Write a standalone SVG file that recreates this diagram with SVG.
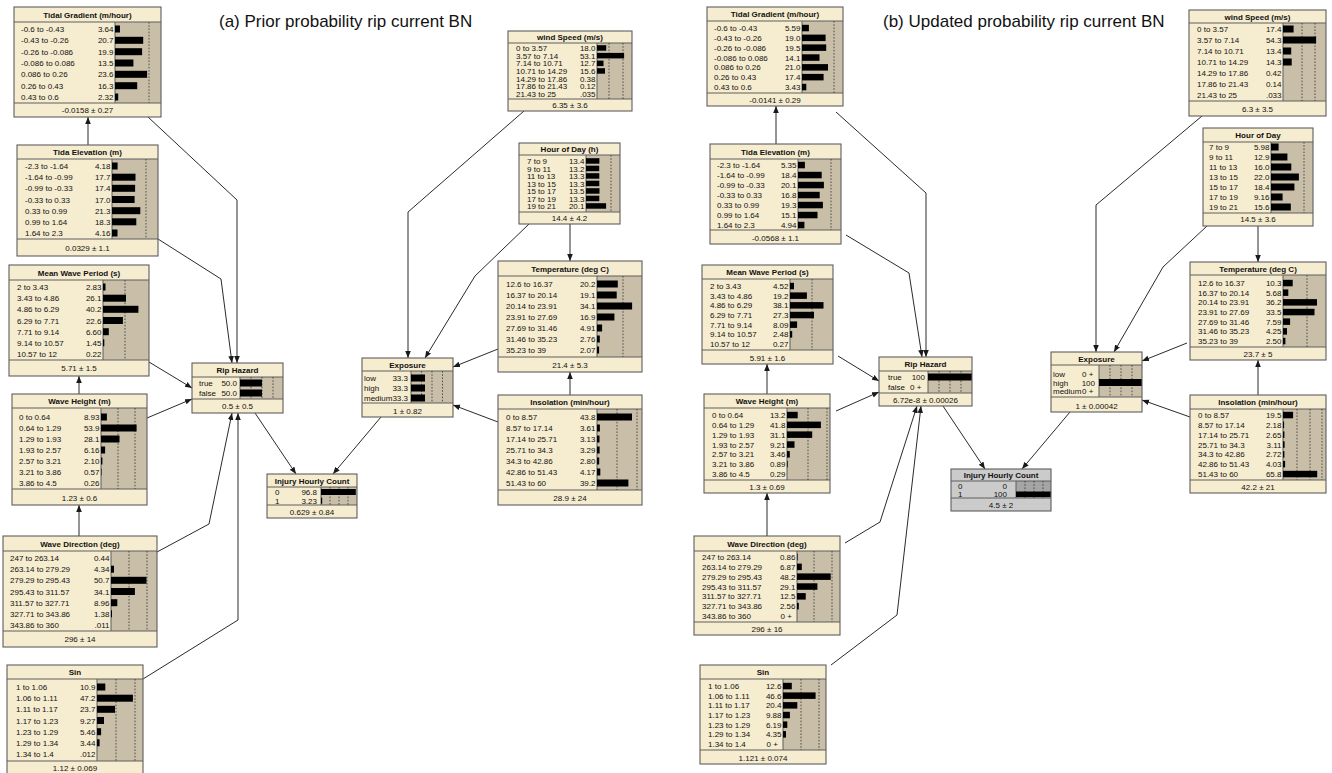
<svg xmlns="http://www.w3.org/2000/svg" width="1332" height="773" viewBox="0 0 1332 773">
<defs>
<marker id="ah" viewBox="0 0 10 10" refX="10" refY="5" markerWidth="7" markerHeight="7" markerUnits="userSpaceOnUse" orient="auto"><path d="M0,1 L10,5 L0,9 z" fill="#1a1a1a"/></marker>
<style>
text{font-family:"Liberation Sans",Arial,sans-serif;font-size:8px;fill:#111}
.ti{font-weight:bold;text-anchor:middle}
.ft{text-anchor:middle}
.v{text-anchor:end}
.cap{font-size:17px;fill:#111}
.bg{fill:#f6eccf}
.gr{fill:#c9bfa9}
.ol{fill:none;stroke:#5e5e5e;stroke-width:1.1}
.sp{fill:none;stroke:#5e5e5e;stroke-width:1}
.dl{fill:none;stroke:#333;stroke-width:0.8;stroke-dasharray:1.6 1.6}
.b{fill:#000}
.cn path{fill:none;stroke:#2a2a2a;stroke-width:1;marker-end:url(#ah)}
.gy .bg{fill:#cbcbcb}
.gy .gr{fill:#a5a5a5}
</style>
</defs>
<rect width="1332" height="773" fill="#fff"/>
<text class="cap" x="219" y="27">(a) Prior probability rip current BN</text>
<text class="cap" x="883" y="27">(b) Updated probability rip current BN</text>

<g id="connectors" class="cn">
<path d="M88,145 L88,117"/>
<path d="M148,117 L237,200 L237,363"/>
<path d="M158,239 L221,279 L232,363"/>
<path d="M149,362 L192,388"/>
<path d="M79,394 L79,376"/>
<path d="M147,418 L192,399"/>
<path d="M79,536 L79,505"/>
<path d="M157,552 L209,524 L232,413"/>
<path d="M143,679 L238,620 L238,413"/>
<path d="M255,413 L296,474"/>
<path d="M381,417 L333,474"/>
<path d="M524,111 L408,212 L408,358"/>
<path d="M529,224 L475,276 L425,358"/>
<path d="M570,224 L570,261"/>
<path d="M498,349 L453,367"/>
<path d="M498,422 L453,405"/>
<path d="M570,395 L570,372"/>
<path d="M776,144 L776,106"/>
<path d="M836,112 L926,193 L926,357"/>
<path d="M846,235 L909,273 L922,357"/>
<path d="M838,356 L879,381"/>
<path d="M767,394 L767,364"/>
<path d="M836,411 L879,392"/>
<path d="M767,536 L767,493"/>
<path d="M845,543 L880,522 L917,406"/>
<path d="M831,665 L897,615 L921,406"/>
<path d="M943,406 L985,469"/>
<path d="M1070,412 L1022,469"/>
<path d="M1202,116 L1096,205 L1096,352"/>
<path d="M1207,226 L1163,267 L1114,352"/>
<path d="M1258,226 L1258,262"/>
<path d="M1187,343 L1142,361"/>
<path d="M1190,417 L1142,400"/>
<path d="M1258,395 L1258,360"/>
</g>

<g id="L-tidal-gradient" transform="translate(14,7)">
<rect class="bg" width="147" height="110"/><rect class="gr" x="101" y="15" width="46" height="81"/>
<path class="sp" d="M0,15H147M0,96H147M101,15V96"/><path class="dl" d="M135,15V96"/>
<text class="ti" x="73.5" y="10.5">Tidal Gradient (m/hour)</text>
<text x="7" y="25">-0.6 to -0.43</text><text class="v" x="99.5" y="25">3.64</text>
<text x="7" y="36.3">-0.43 to -0.26</text><text class="v" x="99.5" y="36.3">20.7</text>
<text x="7" y="47.7">-0.26 to -0.086</text><text class="v" x="99.5" y="47.7">19.9</text>
<text x="7" y="59">-0.086 to 0.086</text><text class="v" x="99.5" y="59">13.5</text>
<text x="7" y="70.3">0.086 to 0.26</text><text class="v" x="99.5" y="70.3">23.6</text>
<text x="7" y="81.7">0.26 to 0.43</text><text class="v" x="99.5" y="81.7">16.3</text>
<text x="7" y="93">0.43 to 0.6</text><text class="v" x="99.5" y="93">2.32</text>
<rect class="b" x="101" y="18.5" width="4.95" height="7"/><rect class="b" x="101" y="29.8" width="28.2" height="7"/><rect class="b" x="101" y="41.2" width="27.1" height="7"/><rect class="b" x="101" y="52.5" width="18.4" height="7"/><rect class="b" x="101" y="63.8" width="32.1" height="7"/><rect class="b" x="101" y="75.2" width="22.2" height="7"/><rect class="b" x="101" y="86.5" width="3.2" height="7"/>
<text class="ft" x="73.5" y="106">-0.0158 ± 0.27</text>
<rect class="ol" width="147" height="110"/>
</g>

<g id="L-tida-elevation" transform="translate(17,145)">
<rect class="bg" width="141" height="111"/><rect class="gr" x="95" y="14" width="46" height="80"/>
<path class="sp" d="M0,14H141M0,94H141M95,14V94"/><path class="dl" d="M129,14V94"/>
<text class="ti" x="70.5" y="10">Tida Elevation (m)</text>
<text x="8" y="24">-2.3 to -1.64</text><text class="v" x="93.5" y="24">4.18</text>
<text x="8" y="35.2">-1.64 to -0.99</text><text class="v" x="93.5" y="35.2">17.7</text>
<text x="8" y="46.3">-0.99 to -0.33</text><text class="v" x="93.5" y="46.3">17.4</text>
<text x="8" y="57.5">-0.33 to 0.33</text><text class="v" x="93.5" y="57.5">17.0</text>
<text x="8" y="68.7">0.33 to 0.99</text><text class="v" x="93.5" y="68.7">21.3</text>
<text x="8" y="79.8">0.99 to 1.64</text><text class="v" x="93.5" y="79.8">18.3</text>
<text x="8" y="91">1.64 to 2.3</text><text class="v" x="93.5" y="91">4.16</text>
<rect class="b" x="95" y="17.5" width="5.6" height="7"/><rect class="b" x="95" y="28.7" width="23.5" height="7"/><rect class="b" x="95" y="39.8" width="23.1" height="7"/><rect class="b" x="95" y="51" width="22.6" height="7"/><rect class="b" x="95" y="62.2" width="28.3" height="7"/><rect class="b" x="95" y="73.3" width="24.3" height="7"/><rect class="b" x="95" y="84.5" width="5.5" height="7"/>
<text class="ft" x="70.5" y="106">0.0329 ± 1.1</text>
<rect class="ol" width="141" height="111"/>
</g>

<g id="L-mean-wave-period" transform="translate(9,265)">
<rect class="bg" width="140" height="111"/><rect class="gr" x="94" y="15" width="46" height="80"/>
<path class="sp" d="M0,15H140M0,95H140M94,15V95"/><path class="dl" d="M116,15V95"/>
<text class="ti" x="70" y="10.5">Mean Wave Period (s)</text>
<text x="8" y="25">2 to 3.43</text><text class="v" x="92.5" y="25">2.83</text>
<text x="8" y="36.2">3.43 to 4.86</text><text class="v" x="92.5" y="36.2">26.1</text>
<text x="8" y="47.3">4.86 to 6.29</text><text class="v" x="92.5" y="47.3">40.2</text>
<text x="8" y="58.5">6.29 to 7.71</text><text class="v" x="92.5" y="58.5">22.6</text>
<text x="8" y="69.7">7.71 to 9.14</text><text class="v" x="92.5" y="69.7">6.60</text>
<text x="8" y="80.8">9.14 to 10.57</text><text class="v" x="92.5" y="80.8">1.45</text>
<text x="8" y="92">10.57 to 12</text><text class="v" x="92.5" y="92">0.22</text>
<rect class="b" x="94" y="18.5" width="2.5" height="7"/><rect class="b" x="94" y="29.7" width="23" height="7"/><rect class="b" x="94" y="40.8" width="35.4" height="7"/><rect class="b" x="94" y="52" width="19.9" height="7"/><rect class="b" x="94" y="63.2" width="5.8" height="7"/><rect class="b" x="94" y="74.3" width="1.3" height="7"/>
<text class="ft" x="70" y="106">5.71 ± 1.5</text>
<rect class="ol" width="140" height="111"/>
</g>

<g id="L-rip-hazard" transform="translate(192,363)">
<rect class="bg" width="91" height="50"/><rect class="gr" x="48" y="14" width="43" height="22"/>
<path class="sp" d="M0,14H91M0,36H91M48,14V36"/><path class="dl" d="M59,14V36M70,14V36M81,14V36"/>
<text class="ti" x="45.5" y="10">Rip Hazard</text>
<text x="7" y="23">true</text><text class="v" x="45" y="23">50.0</text>
<text x="7" y="33">false</text><text class="v" x="45" y="33">50.0</text>
<rect class="b" x="48" y="16.5" width="22" height="7"/><rect class="b" x="48" y="26.5" width="22" height="7"/>
<text class="ft" x="45.5" y="46">0.5 ± 0.5</text>
<rect class="ol" width="91" height="50"/>
</g>

<g id="L-wave-height" transform="translate(12,394)">
<rect class="bg" width="135" height="111"/><rect class="gr" x="89" y="14" width="46" height="81"/>
<path class="sp" d="M0,14H135M0,95H135M89,14V95"/><path class="dl" d="M106,14V95M123,14V95"/>
<text class="ti" x="67.5" y="10">Wave Height (m)</text>
<text x="7" y="26">0 to 0.64</text><text class="v" x="87.5" y="26">8.93</text>
<text x="7" y="37">0.64 to 1.29</text><text class="v" x="87.5" y="37">53.9</text>
<text x="7" y="48">1.29 to 1.93</text><text class="v" x="87.5" y="48">28.1</text>
<text x="7" y="59">1.93 to 2.57</text><text class="v" x="87.5" y="59">6.16</text>
<text x="7" y="70">2.57 to 3.21</text><text class="v" x="87.5" y="70">2.10</text>
<text x="7" y="81">3.21 to 3.86</text><text class="v" x="87.5" y="81">0.57</text>
<text x="7" y="92">3.86 to 4.5</text><text class="v" x="87.5" y="92">0.26</text>
<rect class="b" x="89" y="19.5" width="5.9" height="7"/><rect class="b" x="89" y="30.5" width="35.6" height="7"/><rect class="b" x="89" y="41.5" width="18.5" height="7"/><rect class="b" x="89" y="52.5" width="4.1" height="7"/><rect class="b" x="89" y="63.5" width="1.4" height="7"/><rect class="b" x="89" y="74.5" width="0.5" height="7"/>
<text class="ft" x="67.5" y="107">1.23 ± 0.6</text>
<rect class="ol" width="135" height="111"/>
</g>

<g id="L-wave-direction" transform="translate(3,536)">
<rect class="bg" width="154" height="111"/><rect class="gr" x="108" y="15" width="46" height="80"/>
<path class="sp" d="M0,15H154M0,95H154M108,15V95"/><path class="dl" d="M126,15V95M144,15V95"/>
<text class="ti" x="77" y="10.5">Wave Direction (deg)</text>
<text x="7" y="25">247 to 263.14</text><text class="v" x="106.5" y="25">0.44</text>
<text x="7" y="36.2">263.14 to 279.29</text><text class="v" x="106.5" y="36.2">4.34</text>
<text x="7" y="47.3">279.29 to 295.43</text><text class="v" x="106.5" y="47.3">50.7</text>
<text x="7" y="58.5">295.43 to 311.57</text><text class="v" x="106.5" y="58.5">34.1</text>
<text x="7" y="69.7">311.57 to 327.71</text><text class="v" x="106.5" y="69.7">8.96</text>
<text x="7" y="80.8">327.71 to 343.86</text><text class="v" x="106.5" y="80.8">1.38</text>
<text x="7" y="92">343.86 to 360</text><text class="v" x="106.5" y="92">.011</text>
<rect class="b" x="108" y="29.7" width="3" height="7"/><rect class="b" x="108" y="40.8" width="35.5" height="7"/><rect class="b" x="108" y="52" width="23.9" height="7"/><rect class="b" x="108" y="63.2" width="6.3" height="7"/><rect class="b" x="108" y="74.3" width="1" height="7"/>
<text class="ft" x="77" y="106">296 ± 14</text>
<rect class="ol" width="154" height="111"/>
</g>

<g id="L-sin" transform="translate(7,665)">
<rect class="bg" width="136" height="110"/><rect class="gr" x="90" y="14" width="46" height="82"/>
<path class="sp" d="M0,14H136M0,96H136M90,14V96"/><path class="dl" d="M109,14V96M128,14V96"/>
<text class="ti" x="68" y="10">Sin</text>
<text x="9" y="25">1 to 1.06</text><text class="v" x="88.5" y="25">10.9</text>
<text x="9" y="36.2">1.06 to 1.11</text><text class="v" x="88.5" y="36.2">47.2</text>
<text x="9" y="47.3">1.11 to 1.17</text><text class="v" x="88.5" y="47.3">23.7</text>
<text x="9" y="58.5">1.17 to 1.23</text><text class="v" x="88.5" y="58.5">9.27</text>
<text x="9" y="69.7">1.23 to 1.29</text><text class="v" x="88.5" y="69.7">5.46</text>
<text x="9" y="80.8">1.29 to 1.34</text><text class="v" x="88.5" y="80.8">3.44</text>
<text x="9" y="92">1.34 to 1.4</text><text class="v" x="88.5" y="92">.012</text>
<rect class="b" x="90" y="18.5" width="8.3" height="7"/><rect class="b" x="90" y="29.7" width="35.9" height="7"/><rect class="b" x="90" y="40.8" width="18" height="7"/><rect class="b" x="90" y="52" width="7" height="7"/><rect class="b" x="90" y="63.2" width="4.1" height="7"/><rect class="b" x="90" y="74.3" width="2.6" height="7"/>
<text class="ft" x="68" y="106">1.12 ± 0.069</text>
<rect class="ol" width="136" height="110"/>
</g>

<g id="L-wind-speed" transform="translate(508,31)">
<rect class="bg" width="124" height="80"/><rect class="gr" x="89" y="12" width="35" height="56"/>
<path class="sp" d="M0,12H124M0,68H124M89,12V68"/><path class="dl" d="M101,12V68M115,12V68"/>
<text class="ti" x="62" y="9">wind Speed (m/s)</text>
<text x="8" y="20">0 to 3.57</text><text class="v" x="87.5" y="20">18.0</text>
<text x="8" y="27.7">3.57 to 7.14</text><text class="v" x="87.5" y="27.7">53.1</text>
<text x="8" y="35.3">7.14 to 10.71</text><text class="v" x="87.5" y="35.3">12.7</text>
<text x="8" y="43">10.71 to 14.29</text><text class="v" x="87.5" y="43">15.6</text>
<text x="8" y="50.7">14.29 to 17.86</text><text class="v" x="87.5" y="50.7">0.38</text>
<text x="8" y="58.3">17.86 to 21.43</text><text class="v" x="87.5" y="58.3">0.12</text>
<text x="8" y="66">21.43 to 25</text><text class="v" x="87.5" y="66">.035</text>
<rect class="b" x="89" y="14.2" width="9.2" height="5.5"/><rect class="b" x="89" y="21.9" width="27.1" height="5.5"/><rect class="b" x="89" y="29.6" width="6.5" height="5.5"/><rect class="b" x="89" y="37.2" width="8" height="5.5"/>
<text class="ft" x="62" y="77">6.35 ± 3.6</text>
<rect class="ol" width="124" height="80"/>
</g>

<g id="L-hour-of-day" transform="translate(519,143)">
<rect class="bg" width="101" height="81"/><rect class="gr" x="67" y="12" width="34" height="57"/>
<path class="sp" d="M0,12H101M0,69H101M67,12V69"/><path class="dl" d="M92,12V69"/>
<text class="ti" x="50.5" y="9">Hour of Day (h)</text>
<text x="8" y="21">7 to 9</text><text class="v" x="65.5" y="21">13.4</text>
<text x="8" y="28.5">9 to 11</text><text class="v" x="65.5" y="28.5">13.2</text>
<text x="8" y="36">11 to 13</text><text class="v" x="65.5" y="36">13.3</text>
<text x="8" y="43.5">13 to 15</text><text class="v" x="65.5" y="43.5">13.3</text>
<text x="8" y="51">15 to 17</text><text class="v" x="65.5" y="51">13.5</text>
<text x="8" y="58.5">17 to 19</text><text class="v" x="65.5" y="58.5">13.3</text>
<text x="8" y="66">19 to 21</text><text class="v" x="65.5" y="66">20.1</text>
<rect class="b" x="67" y="15.2" width="13.4" height="5.5"/><rect class="b" x="67" y="22.7" width="13.2" height="5.5"/><rect class="b" x="67" y="30.2" width="13.3" height="5.5"/><rect class="b" x="67" y="37.7" width="13.3" height="5.5"/><rect class="b" x="67" y="45.2" width="13.5" height="5.5"/><rect class="b" x="67" y="52.7" width="13.3" height="5.5"/><rect class="b" x="67" y="60.2" width="20.1" height="5.5"/>
<text class="ft" x="50.5" y="78">14.4 ± 4.2</text>
<rect class="ol" width="101" height="81"/>
</g>

<g id="L-temperature" transform="translate(498,261)">
<rect class="bg" width="144" height="111"/><rect class="gr" x="99" y="15" width="45" height="81"/>
<path class="sp" d="M0,15H144M0,96H144M99,15V96"/><path class="dl" d="M125,15V96"/>
<text class="ti" x="72" y="10.5">Temperature (deg C)</text>
<text x="8" y="26">12.6 to 16.37</text><text class="v" x="97.5" y="26">20.2</text>
<text x="8" y="37">16.37 to 20.14</text><text class="v" x="97.5" y="37">19.1</text>
<text x="8" y="48">20.14 to 23.91</text><text class="v" x="97.5" y="48">34.1</text>
<text x="8" y="59">23.91 to 27.69</text><text class="v" x="97.5" y="59">16.9</text>
<text x="8" y="70">27.69 to 31.46</text><text class="v" x="97.5" y="70">4.91</text>
<text x="8" y="81">31.46 to 35.23</text><text class="v" x="97.5" y="81">2.76</text>
<text x="8" y="92">35.23 to 39</text><text class="v" x="97.5" y="92">2.07</text>
<rect class="b" x="99" y="19.5" width="20.8" height="7"/><rect class="b" x="99" y="30.5" width="19.7" height="7"/><rect class="b" x="99" y="41.5" width="35.1" height="7"/><rect class="b" x="99" y="52.5" width="17.4" height="7"/><rect class="b" x="99" y="63.5" width="5.1" height="7"/><rect class="b" x="99" y="74.5" width="2.8" height="7"/><rect class="b" x="99" y="85.5" width="2.1" height="7"/>
<text class="ft" x="72" y="107">21.4 ± 5.3</text>
<rect class="ol" width="144" height="111"/>
</g>

<g id="L-exposure" transform="translate(362,358)">
<rect class="bg" width="91" height="59"/><rect class="gr" x="49" y="13" width="42" height="32"/>
<path class="sp" d="M0,13H91M0,45H91M49,13V45"/><path class="dl" d="M59.5,13V45M70,13V45M80.5,13V45"/>
<text class="ti" x="45.5" y="9.5">Exposure</text>
<text x="2" y="23">low</text><text class="v" x="46" y="23">33.3</text>
<text x="2" y="33">high</text><text class="v" x="46" y="33">33.3</text>
<text x="2" y="43">medium</text><text class="v" x="46" y="43">33.3</text>
<rect class="b" x="49" y="16.5" width="14" height="7"/><rect class="b" x="49" y="26.5" width="14" height="7"/><rect class="b" x="49" y="36.5" width="14" height="7"/>
<text class="ft" x="45.5" y="56">1 ± 0.82</text>
<rect class="ol" width="91" height="59"/>
</g>

<g id="L-insolation" transform="translate(498,395)">
<rect class="bg" width="144" height="110"/><rect class="gr" x="99" y="14" width="45" height="81"/>
<path class="sp" d="M0,14H144M0,95H144M99,14V95"/><path class="dl" d="M119,14V95M139,14V95"/>
<text class="ti" x="72" y="10">Insolation (min/hour)</text>
<text x="8" y="25">0 to 8.57</text><text class="v" x="97.5" y="25">43.8</text>
<text x="8" y="36">8.57 to 17.14</text><text class="v" x="97.5" y="36">3.61</text>
<text x="8" y="47">17.14 to 25.71</text><text class="v" x="97.5" y="47">3.13</text>
<text x="8" y="58">25.71 to 34.3</text><text class="v" x="97.5" y="58">3.29</text>
<text x="8" y="69">34.3 to 42.86</text><text class="v" x="97.5" y="69">2.80</text>
<text x="8" y="80">42.86 to 51.43</text><text class="v" x="97.5" y="80">4.17</text>
<text x="8" y="91">51.43 to 60</text><text class="v" x="97.5" y="91">39.2</text>
<rect class="b" x="99" y="18.5" width="35" height="7"/><rect class="b" x="99" y="29.5" width="2.9" height="7"/><rect class="b" x="99" y="40.5" width="2.5" height="7"/><rect class="b" x="99" y="51.5" width="2.6" height="7"/><rect class="b" x="99" y="62.5" width="2.2" height="7"/><rect class="b" x="99" y="73.5" width="3.3" height="7"/><rect class="b" x="99" y="84.5" width="31.4" height="7"/>
<text class="ft" x="72" y="106">28.9 ± 24</text>
<rect class="ol" width="144" height="110"/>
</g>

<g id="L-injury-hourly-count" transform="translate(267,474)">
<rect class="bg" width="90" height="44"/><rect class="gr" x="54" y="13" width="36" height="18"/>
<path class="sp" d="M0,13H90M0,31H90M54,13V31"/><path class="dl" d="M63,13V31M72,13V31M81,13V31"/>
<text class="ti" x="45" y="9.5">Injury Hourly Count</text>
<text x="8" y="21">0</text><text class="v" x="50" y="21">96.8</text>
<text x="8" y="29.7">1</text><text class="v" x="50" y="29.7">3.23</text>
<rect class="b" x="54" y="15" width="34.8" height="6"/><rect class="b" x="54" y="23.7" width="1.2" height="6"/>
<text class="ft" x="45" y="41">0.629 ± 0.84</text>
<rect class="ol" width="90" height="44"/>
</g>

<g id="R-tidal-gradient" transform="translate(707,7)">
<rect class="bg" width="136" height="99"/><rect class="gr" x="95" y="14" width="41" height="72"/>
<path class="sp" d="M0,14H136M0,86H136M95,14V86"/><path class="dl" d="M127,14V86"/>
<text class="ti" x="68" y="10">Tidal Gradient (m/hour)</text>
<text x="7" y="24">-0.6 to -0.43</text><text class="v" x="93.5" y="24">5.59</text>
<text x="7" y="33.8">-0.43 to -0.26</text><text class="v" x="93.5" y="33.8">19.0</text>
<text x="7" y="43.7">-0.26 to -0.086</text><text class="v" x="93.5" y="43.7">19.5</text>
<text x="7" y="53.5">-0.086 to 0.086</text><text class="v" x="93.5" y="53.5">14.1</text>
<text x="7" y="63.3">0.086 to 0.26</text><text class="v" x="93.5" y="63.3">21.0</text>
<text x="7" y="73.2">0.26 to 0.43</text><text class="v" x="93.5" y="73.2">17.4</text>
<text x="7" y="83">0.43 to 0.6</text><text class="v" x="93.5" y="83">3.43</text>
<rect class="b" x="95" y="17.8" width="6.9" height="6.5"/><rect class="b" x="95" y="27.6" width="23.6" height="6.5"/><rect class="b" x="95" y="37.4" width="24.2" height="6.5"/><rect class="b" x="95" y="47.3" width="17.5" height="6.5"/><rect class="b" x="95" y="57.1" width="26" height="6.5"/><rect class="b" x="95" y="66.9" width="21.6" height="6.5"/><rect class="b" x="95" y="76.8" width="4.3" height="6.5"/>
<text class="ft" x="68" y="96">-0.0141 ± 0.29</text>
<rect class="ol" width="136" height="99"/>
</g>

<g id="R-tida-elevation" transform="translate(710,144)">
<rect class="bg" width="131" height="100"/><rect class="gr" x="88" y="15" width="43" height="71"/>
<path class="sp" d="M0,15H131M0,86H131M88,15V86"/><path class="dl" d="M121,15V86"/>
<text class="ti" x="65.5" y="10.5">Tida Elevation (m)</text>
<text x="7" y="24">-2.3 to -1.64</text><text class="v" x="86.5" y="24">5.35</text>
<text x="7" y="34">-1.64 to -0.99</text><text class="v" x="86.5" y="34">18.4</text>
<text x="7" y="44">-0.99 to -0.33</text><text class="v" x="86.5" y="44">20.1</text>
<text x="7" y="54">-0.33 to 0.33</text><text class="v" x="86.5" y="54">16.8</text>
<text x="7" y="64">0.33 to 0.99</text><text class="v" x="86.5" y="64">19.3</text>
<text x="7" y="74">0.99 to 1.64</text><text class="v" x="86.5" y="74">15.1</text>
<text x="7" y="84">1.64 to 2.3</text><text class="v" x="86.5" y="84">4.94</text>
<rect class="b" x="88" y="17.8" width="6.9" height="6.5"/><rect class="b" x="88" y="27.8" width="23.7" height="6.5"/><rect class="b" x="88" y="37.8" width="25.9" height="6.5"/><rect class="b" x="88" y="47.8" width="21.7" height="6.5"/><rect class="b" x="88" y="57.8" width="24.9" height="6.5"/><rect class="b" x="88" y="67.8" width="19.5" height="6.5"/><rect class="b" x="88" y="77.8" width="6.4" height="6.5"/>
<text class="ft" x="65.5" y="97">-0.0568 ± 1.1</text>
<rect class="ol" width="131" height="100"/>
</g>

<g id="R-mean-wave-period" transform="translate(702,265)">
<rect class="bg" width="131" height="99"/><rect class="gr" x="88" y="14" width="43" height="71"/>
<path class="sp" d="M0,14H131M0,85H131M88,14V85"/><path class="dl" d="M110,14V85"/>
<text class="ti" x="65.5" y="10">Mean Wave Period (s)</text>
<text x="8" y="24">2 to 3.43</text><text class="v" x="86.5" y="24">4.52</text>
<text x="8" y="33.7">3.43 to 4.86</text><text class="v" x="86.5" y="33.7">19.2</text>
<text x="8" y="43.3">4.86 to 6.29</text><text class="v" x="86.5" y="43.3">38.1</text>
<text x="8" y="53">6.29 to 7.71</text><text class="v" x="86.5" y="53">27.3</text>
<text x="8" y="62.7">7.71 to 9.14</text><text class="v" x="86.5" y="62.7">8.09</text>
<text x="8" y="72.3">9.14 to 10.57</text><text class="v" x="86.5" y="72.3">2.48</text>
<text x="8" y="82">10.57 to 12</text><text class="v" x="86.5" y="82">0.27</text>
<rect class="b" x="88" y="17.8" width="4" height="6.5"/><rect class="b" x="88" y="27.4" width="16.9" height="6.5"/><rect class="b" x="88" y="37.1" width="33.5" height="6.5"/><rect class="b" x="88" y="46.8" width="24" height="6.5"/><rect class="b" x="88" y="56.4" width="7.1" height="6.5"/><rect class="b" x="88" y="66.1" width="2.2" height="6.5"/>
<text class="ft" x="65.5" y="96">5.91 ± 1.6</text>
<rect class="ol" width="131" height="99"/>
</g>

<g id="R-rip-hazard" transform="translate(879,357)">
<rect class="bg" width="93" height="49"/><rect class="gr" x="49" y="14" width="44" height="22"/>
<path class="sp" d="M0,14H93M0,36H93M49,14V36"/><path class="dl" d="M60,14V36M71,14V36M82,14V36"/>
<text class="ti" x="46.5" y="10">Rip Hazard</text>
<text x="9" y="23">true</text><text class="v" x="46" y="23">100</text>
<text x="9" y="32.5">false</text><text x="31" y="32.5">0 +</text>
<rect class="b" x="49" y="16.5" width="44" height="7"/>
<text class="ft" x="46.5" y="46">6.72e-8 ± 0.00026</text>
<rect class="ol" width="93" height="49"/>
</g>

<g id="R-wave-height" transform="translate(704,394)">
<rect class="bg" width="126" height="99"/><rect class="gr" x="83" y="14" width="43" height="72"/>
<path class="sp" d="M0,14H126M0,86H126M83,14V86"/><path class="dl" d="M104,14V86M123,14V86"/>
<text class="ti" x="63" y="10">Wave Height (m)</text>
<text x="8" y="24">0 to 0.64</text><text class="v" x="81.5" y="24">13.2</text>
<text x="8" y="33.8">0.64 to 1.29</text><text class="v" x="81.5" y="33.8">41.8</text>
<text x="8" y="43.7">1.29 to 1.93</text><text class="v" x="81.5" y="43.7">31.1</text>
<text x="8" y="53.5">1.93 to 2.57</text><text class="v" x="81.5" y="53.5">9.21</text>
<text x="8" y="63.3">2.57 to 3.21</text><text class="v" x="81.5" y="63.3">3.46</text>
<text x="8" y="73.2">3.21 to 3.86</text><text class="v" x="81.5" y="73.2">0.89</text>
<text x="8" y="83">3.86 to 4.5</text><text class="v" x="81.5" y="83">0.29</text>
<rect class="b" x="83" y="17.8" width="10.7" height="6.5"/><rect class="b" x="83" y="27.6" width="33.9" height="6.5"/><rect class="b" x="83" y="37.4" width="25.2" height="6.5"/><rect class="b" x="83" y="47.3" width="7.5" height="6.5"/><rect class="b" x="83" y="57.1" width="2.8" height="6.5"/><rect class="b" x="83" y="66.9" width="0.7" height="6.5"/>
<text class="ft" x="63" y="96">1.3 ± 0.69</text>
<rect class="ol" width="126" height="99"/>
</g>

<g id="R-wave-direction" transform="translate(694,536)">
<rect class="bg" width="146" height="99"/><rect class="gr" x="103" y="15" width="43" height="71"/>
<path class="sp" d="M0,15H146M0,86H146M103,15V86"/><path class="dl" d="M120,15V86M138,15V86"/>
<text class="ti" x="73" y="10.5">Wave Direction (deg)</text>
<text x="8" y="24">247 to 263.14</text><text class="v" x="101.5" y="24">0.86</text>
<text x="8" y="33.8">263.14 to 279.29</text><text class="v" x="101.5" y="33.8">6.87</text>
<text x="8" y="43.7">279.29 to 295.43</text><text class="v" x="101.5" y="43.7">48.2</text>
<text x="8" y="53.5">295.43 to 311.57</text><text class="v" x="101.5" y="53.5">29.1</text>
<text x="8" y="63.3">311.57 to 327.71</text><text class="v" x="101.5" y="63.3">12.5</text>
<text x="8" y="73.2">327.71 to 343.86</text><text class="v" x="101.5" y="73.2">2.56</text>
<text x="8" y="83">343.86 to 360</text><text x="86.5" y="83">0 +</text>
<rect class="b" x="103" y="17.8" width="0.6" height="6.5"/><rect class="b" x="103" y="27.6" width="4.8" height="6.5"/><rect class="b" x="103" y="37.4" width="33.7" height="6.5"/><rect class="b" x="103" y="47.3" width="20.4" height="6.5"/><rect class="b" x="103" y="57.1" width="8.75" height="6.5"/><rect class="b" x="103" y="66.9" width="1.8" height="6.5"/>
<text class="ft" x="73" y="95.5">296 ± 16</text>
<rect class="ol" width="146" height="99"/>
</g>

<g id="R-sin" transform="translate(700,665)">
<rect class="bg" width="126" height="99"/><rect class="gr" x="83" y="14" width="43" height="71"/>
<path class="sp" d="M0,14H126M0,85H126M83,14V85"/><path class="dl" d="M101,14V85M119,14V85"/>
<text class="ti" x="63" y="10">Sin</text>
<text x="8" y="24">1 to 1.06</text><text class="v" x="81.5" y="24">12.6</text>
<text x="8" y="33.7">1.06 to 1.11</text><text class="v" x="81.5" y="33.7">46.6</text>
<text x="8" y="43.3">1.11 to 1.17</text><text class="v" x="81.5" y="43.3">20.4</text>
<text x="8" y="53">1.17 to 1.23</text><text class="v" x="81.5" y="53">9.88</text>
<text x="8" y="62.7">1.23 to 1.29</text><text class="v" x="81.5" y="62.7">6.19</text>
<text x="8" y="72.3">1.29 to 1.34</text><text class="v" x="81.5" y="72.3">4.35</text>
<text x="8" y="82">1.34 to 1.4</text><text x="66.5" y="82">0 +</text>
<rect class="b" x="83" y="17.8" width="8.8" height="6.5"/><rect class="b" x="83" y="27.4" width="32.6" height="6.5"/><rect class="b" x="83" y="37.1" width="14.3" height="6.5"/><rect class="b" x="83" y="46.8" width="6.9" height="6.5"/><rect class="b" x="83" y="56.4" width="4.3" height="6.5"/><rect class="b" x="83" y="66.1" width="3" height="6.5"/>
<text class="ft" x="63" y="96">1.121 ± 0.074</text>
<rect class="ol" width="126" height="99"/>
</g>

<g id="R-wind-speed" transform="translate(1189,10)">
<rect class="bg" width="137" height="106"/><rect class="gr" x="94" y="13" width="43" height="78"/>
<path class="sp" d="M0,13H137M0,91H137M94,13V91"/><path class="dl" d="M113,13V91M126,13V91"/>
<text class="ti" x="68.5" y="9.5">wind Speed (m/s)</text>
<text x="8" y="22">0 to 3.57</text><text class="v" x="92.5" y="22">17.4</text>
<text x="8" y="33">3.57 to 7.14</text><text class="v" x="92.5" y="33">54.3</text>
<text x="8" y="44">7.14 to 10.71</text><text class="v" x="92.5" y="44">13.4</text>
<text x="8" y="55">10.71 to 14.29</text><text class="v" x="92.5" y="55">14.3</text>
<text x="8" y="66">14.29 to 17.86</text><text class="v" x="92.5" y="66">0.42</text>
<text x="8" y="77">17.86 to 21.43</text><text class="v" x="92.5" y="77">0.14</text>
<text x="8" y="88">21.43 to 25</text><text class="v" x="92.5" y="88">.033</text>
<rect class="b" x="94" y="15.5" width="10.6" height="7"/><rect class="b" x="94" y="26.5" width="33.1" height="7"/><rect class="b" x="94" y="37.5" width="8.2" height="7"/><rect class="b" x="94" y="48.5" width="8.7" height="7"/>
<text class="ft" x="68.5" y="101.5">6.3 ± 3.5</text>
<rect class="ol" width="137" height="106"/>
</g>

<g id="R-hour-of-day" transform="translate(1203,128)">
<rect class="bg" width="110" height="98"/><rect class="gr" x="68" y="14" width="42" height="71"/>
<path class="sp" d="M0,14H110M0,85H110M68,14V85"/><path class="dl" d="M101,14V85"/>
<text class="ti" x="55" y="10">Hour of Day</text>
<text x="6" y="22">7 to 9</text><text class="v" x="66.5" y="22">5.98</text>
<text x="6" y="32">9 to 11</text><text class="v" x="66.5" y="32">12.9</text>
<text x="6" y="42">11 to 13</text><text class="v" x="66.5" y="42">16.0</text>
<text x="6" y="52">13 to 15</text><text class="v" x="66.5" y="52">22.0</text>
<text x="6" y="62">15 to 17</text><text class="v" x="66.5" y="62">18.4</text>
<text x="6" y="72">17 to 19</text><text class="v" x="66.5" y="72">9.16</text>
<text x="6" y="82">19 to 21</text><text class="v" x="66.5" y="82">15.6</text>
<rect class="b" x="68" y="15.5" width="7.6" height="7"/><rect class="b" x="68" y="25.5" width="16.4" height="7"/><rect class="b" x="68" y="35.5" width="20.3" height="7"/><rect class="b" x="68" y="45.5" width="27.9" height="7"/><rect class="b" x="68" y="55.5" width="23.4" height="7"/><rect class="b" x="68" y="65.5" width="11.6" height="7"/><rect class="b" x="68" y="75.5" width="19.8" height="7"/>
<text class="ft" x="55" y="94">14.5 ± 3.6</text>
<rect class="ol" width="110" height="98"/>
</g>

<g id="R-temperature" transform="translate(1190,262)">
<rect class="bg" width="136" height="98"/><rect class="gr" x="93" y="13" width="43" height="72"/>
<path class="sp" d="M0,13H136M0,85H136M93,13V85"/><path class="dl" d="M117,13V85"/>
<text class="ti" x="68" y="9.5">Temperature (deg C)</text>
<text x="8" y="24">12.6 to 16.37</text><text class="v" x="91.5" y="24">10.3</text>
<text x="8" y="33.7">16.37 to 20.14</text><text class="v" x="91.5" y="33.7">5.68</text>
<text x="8" y="43.3">20.14 to 23.91</text><text class="v" x="91.5" y="43.3">36.2</text>
<text x="8" y="53">23.91 to 27.69</text><text class="v" x="91.5" y="53">33.5</text>
<text x="8" y="62.7">27.69 to 31.46</text><text class="v" x="91.5" y="62.7">7.59</text>
<text x="8" y="72.3">31.46 to 35.23</text><text class="v" x="91.5" y="72.3">4.25</text>
<text x="8" y="82">35.23 to 39</text><text class="v" x="91.5" y="82">2.50</text>
<rect class="b" x="93" y="17.8" width="9.7" height="6.5"/><rect class="b" x="93" y="27.4" width="5.3" height="6.5"/><rect class="b" x="93" y="37.1" width="34" height="6.5"/><rect class="b" x="93" y="46.8" width="31.5" height="6.5"/><rect class="b" x="93" y="56.4" width="7.1" height="6.5"/><rect class="b" x="93" y="66.1" width="4" height="6.5"/><rect class="b" x="93" y="75.8" width="2.4" height="6.5"/>
<text class="ft" x="68" y="95">23.7 ± 5</text>
<rect class="ol" width="136" height="98"/>
</g>

<g id="R-exposure" transform="translate(1051,352)">
<rect class="bg" width="91" height="60"/><rect class="gr" x="48" y="13" width="43" height="32"/>
<path class="sp" d="M0,13H91M0,45H91M48,13V45"/><path class="dl" d="M59,13V45M70,13V45M81,13V45"/>
<text class="ti" x="45.5" y="9.5">Exposure</text>
<text x="2" y="25">low</text><text x="31" y="25">0 +</text>
<text x="2" y="33.5">high</text><text class="v" x="44" y="33.5">100</text>
<text x="2" y="42">medium</text><text x="31" y="42">0 +</text>
<rect class="b" x="48" y="27" width="43" height="7"/>
<text class="ft" x="45.5" y="57">1 ± 0.00042</text>
<rect class="ol" width="91" height="60"/>
</g>

<g id="R-insolation" transform="translate(1190,395)">
<rect class="bg" width="136" height="98"/><rect class="gr" x="93" y="14" width="43" height="71"/>
<path class="sp" d="M0,14H136M0,85H136M93,14V85"/><path class="dl" d="M107,14V85M120,14V85M132,14V85"/>
<text class="ti" x="68" y="10">Insolation (min/hour)</text>
<text x="8" y="23">0 to 8.57</text><text class="v" x="91.5" y="23">19.5</text>
<text x="8" y="32.8">8.57 to 17.14</text><text class="v" x="91.5" y="32.8">2.18</text>
<text x="8" y="42.7">17.14 to 25.71</text><text class="v" x="91.5" y="42.7">2.65</text>
<text x="8" y="52.5">25.71 to 34.3</text><text class="v" x="91.5" y="52.5">3.11</text>
<text x="8" y="62.3">34.3 to 42.86</text><text class="v" x="91.5" y="62.3">2.72</text>
<text x="8" y="72.2">42.86 to 51.43</text><text class="v" x="91.5" y="72.2">4.03</text>
<text x="8" y="82">51.43 to 60</text><text class="v" x="91.5" y="82">65.8</text>
<rect class="b" x="93" y="16.8" width="10.1" height="6.5"/><rect class="b" x="93" y="26.6" width="1.1" height="6.5"/><rect class="b" x="93" y="36.4" width="1.4" height="6.5"/><rect class="b" x="93" y="46.3" width="1.6" height="6.5"/><rect class="b" x="93" y="56.1" width="1.4" height="6.5"/><rect class="b" x="93" y="65.9" width="2.1" height="6.5"/><rect class="b" x="93" y="75.8" width="34.2" height="6.5"/>
<text class="ft" x="68" y="95">42.2 ± 21</text>
<rect class="ol" width="136" height="98"/>
</g>

<g id="R-injury-hourly-count" class="gy" transform="translate(951,469)">
<rect class="bg" width="100" height="42"/><rect class="gr" x="65" y="12" width="35" height="17"/>
<path class="sp" d="M0,12H100M0,29H100M65,12V29"/><path class="dl" d="M74,12V29M83,12V29M92,12V29"/>
<text class="ti" x="50" y="9">Injury Hourly Count</text>
<text x="7" y="20">0</text><text class="v" x="56" y="20">0</text>
<text x="7" y="28">1</text><text class="v" x="56" y="28">100</text>
<rect class="b" x="65" y="22.5" width="35" height="5.5"/>
<text class="ft" x="50" y="39">4.5 ± 2</text>
<rect class="ol" width="100" height="42"/>
</g>
</svg>
